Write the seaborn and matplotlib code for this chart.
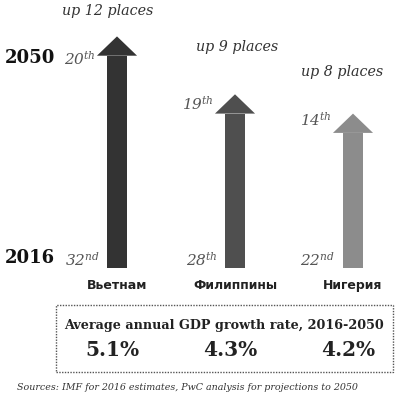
import matplotlib
matplotlib.use("Agg")
import matplotlib.pyplot as plt
import numpy as np
import seaborn as sns
from matplotlib.patches import Rectangle

countries = ["Вьетнам", "Филиппины", "Нигерия"]
rank_2016 = [32, 28, 22]
rank_2050 = [20, 19, 14]
rank_2016_suffix = ["nd", "th", "nd"]
rank_2050_suffix = ["th", "th", "th"]
gdp_growth = [5.1, 4.3, 4.2]
arrow_colors = ["#333333", "#4f4f4f", "#8c8c8c"]

sns.set_theme(style="white")
plt.rcParams["font.family"] = ["DejaVu Serif"]
plt.rcParams["mathtext.fontset"] = "custom"
plt.rcParams["mathtext.rm"] = "DejaVu Serif:italic"
plt.rcParams["mathtext.it"] = "DejaVu Serif:italic"

places_up = np.array(rank_2016) - np.array(rank_2050)
head_len = 1.0
shaft_w = 0.17
head_w = 0.34
shaft = places_up - head_len

W, H = 400, 397
px_x = 118.0   # pixels per category step
px_y = 19.3    # pixels per place
x0_px, y0_px = 117.0, 129.0  # first category centre / baseline from bottom

fig = plt.figure(figsize=(4.0, 3.97), dpi=100)
ax = fig.add_axes([0, 0, 1, 1])

sns.barplot(x=countries, y=shaft, hue=countries, palette=arrow_colors,
            width=shaft_w, legend=False, ax=ax, edgecolor="none", saturation=1)
for i, (top, col) in enumerate(zip(places_up, arrow_colors)):
    ax.fill([i - head_w / 2, i + head_w / 2, i],
            [top - head_len, top - head_len, top], color=col, lw=0)

ax.set_xlim(-x0_px / px_x, (W - x0_px) / px_x)
ax.set_ylim(-y0_px / px_y, (H - y0_px) / px_y)
ax.axis("off")

# "up N places"
up_dy = [1.3, 2.45, 2.15]
up_dx = [-0.08, 0.02, -0.09]
for i, n in enumerate(places_up):
    ax.text(i + up_dx[i], n + up_dy[i], f"up {n} places", ha="center", va="center",
            fontsize=10.3, style="italic", color="#333333")

# rank labels
top_dy = [-1.14, -0.47, -0.3]
for i in range(3):
    ax.text(i - 0.18, places_up[i] + top_dy[i],
            rf"${rank_2050[i]}^{{{rank_2050_suffix[i]}}}$",
            ha="right", va="center", fontsize=11, color="#555555")
    ax.text(i - 0.15, 0.45,
            rf"${rank_2016[i]}^{{{rank_2016_suffix[i]}}}$",
            ha="right", va="center", fontsize=11, color="#555555")
    ax.text(i, -0.9, countries[i], ha="center", va="center", fontsize=9,
            fontweight="bold", family="DejaVu Sans", color="#222222")
    ax.text(i - 0.04, -4.25, f"{gdp_growth[i]:.1f}%", ha="center", va="center",
            fontsize=14.5, fontweight="bold", color="#222222")

# year labels
fig.text(5 / W, 1 - 58 / H, "2050", ha="left", va="center", fontsize=13,
         fontweight="bold", color="#111111")
fig.text(5 / W, 1 - 258 / H, "2016", ha="left", va="center", fontsize=13,
         fontweight="bold", color="#111111")

# dotted box
fig.patches.append(Rectangle((56 / W, 1 - 372 / H), (393 - 56) / W, (372 - 305) / H,
                             transform=fig.transFigure, fill=False,
                             edgecolor="#555555", linestyle=(0, (1, 1)), lw=1.0))
fig.text(224 / W, 1 - 325 / H, "Average annual GDP growth rate, 2016-2050",
         ha="center", va="center", fontsize=9.2, fontweight="bold", color="#222222")

fig.text(17 / W, 1 - 388 / H,
         "Sources: IMF for 2016 estimates, PwC analysis for projections to 2050",
         ha="left", va="center", fontsize=6.8, style="italic", color="#333333")

fig.savefig("out.png", dpi=100, facecolor="white")
